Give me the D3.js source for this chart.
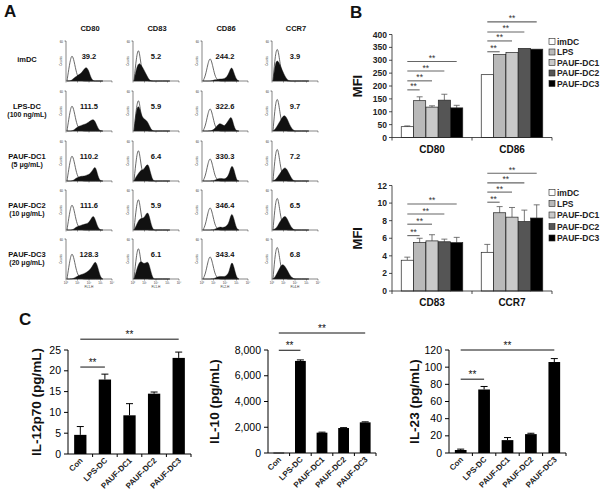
<!DOCTYPE html>
<html><head><meta charset="utf-8">
<script src="https://cdn.jsdelivr.net/npm/d3@7/dist/d3.min.js"></script>
<style>body{margin:0;background:#fff} svg{display:block} text{font-family:"Liberation Sans",Arial,sans-serif}</style>
</head><body>
<script>
// ---------- Panel A data ----------
const markersA = ["CD80","CD83","CD86","CCR7"];
const rowLabelsA = [["imDC"],["LPS-DC","(100 ng/mL)"],["PAUF-DC1","(5 \u03bcg/mL)"],["PAUF-DC2","(10 \u03bcg/mL)"],["PAUF-DC3","(20 \u03bcg/mL)"]];
const mfiA = [[39.2,5.2,244.2,3.9],[111.5,5.9,322.6,9.7],[110.2,6.4,330.3,7.2],[111.6,5.9,346.4,6.5],[128.3,6.1,343.4,6.8]];
const channelsA = ["FL1-H","FL1-H","FL2-H","FL4-H"];
const decadeLabels = ["10\u2070","10\u00b9","10\u00b2","10\u00b3","10\u2074"];
const isoCD80 = [0,40,70,50,18,6,2,0,0,0,0,0,0,0,0,0];
const isoCD83 = [0,60,88,35,12,4,0,0,0,0,0,0,0,0,0,0];
const isoCD86 = [0,12,42,62,40,12,3,0,0,0,0,0,0,0,0,0];
const isoCCR7 = [0,70,88,40,12,3,0,0,0,0,0,0,0,0,0,0];
const histCD80 = [
 [0,0,2,8,12,16,20,28,36,28,8,0,0,0,0,0],
 [0,0,0,3,8,12,14,16,18,22,26,30,22,6,0,0],
 [0,0,0,3,8,10,12,12,14,16,20,30,38,10,0,0],
 [0,0,0,3,8,10,12,14,15,18,26,38,24,5,0,0],
 [0,0,0,2,6,9,11,13,16,20,26,36,46,28,4,0]];
const histCD83 = [
 [0,32,46,40,30,18,6,0,0,0,0,0,0,0,0,0],
 [0,55,66,42,30,28,20,5,0,0,0,0,0,0,0,0],
 [0,12,20,28,28,38,44,18,0,0,0,0,0,0,0,0],
 [0,12,25,30,28,40,46,18,0,0,0,0,0,0,0,0],
 [0,20,40,45,38,40,45,20,0,0,0,0,0,0,0,0]];
const histCD86 = [
 [0,0,0,0,1,3,4,5,5,6,10,22,38,20,3,0],
 [0,0,0,0,2,6,14,20,16,12,20,30,38,10,0,0],
 [0,0,0,0,0,2,5,7,6,5,8,18,42,30,2,0],
 [0,0,0,0,0,2,5,8,6,7,10,20,46,28,3,0],
 [0,0,0,0,0,2,5,7,6,6,9,18,47,30,4,0]];
const histCCR7 = [
 [0,48,52,40,25,12,3,0,0,0,0,0,0,0,0,0],
 [0,5,15,25,36,40,30,15,5,0,0,0,0,0,0,0],
 [0,3,10,20,28,35,28,15,4,0,0,0,0,0,0,0],
 [0,3,10,22,30,36,28,14,4,0,0,0,0,0,0,0],
 [0,6,18,30,38,32,22,10,3,0,0,0,0,0,0,0]];

// ---------- Panel B data ----------
const markersBTop = ["CD80","CD86"];
const markersBBot = ["CD83","CCR7"];
const groupsB = ["imDC","LPS","PAUF-DC1","PAUF-DC2","PAUF-DC3"];
const colorsB = ["#ffffff","#b9b9b9","#c9c9c9","#555555","#000000"];
const mfiTop = [[42,143,118,145,115],[244,322,330,346,343]];
const mfiTopErr = [[3,15,5,23,10],[0,0,0,0,0]];
const mfiBot = [[3.5,5.5,5.7,5.6,5.5],[4.4,8.9,8.4,7.9,8.3]];
const mfiBotErr = [[0.35,0.5,0.7,0.3,0.6],[0.9,0.7,1.1,1.3,1.5]];
const ticksBTop = [0,50,100,150,200,250,300,350,400];
const ticksBBot = [0,2,4,6,8,10,12];
const sigTop = [[185,220,258,295],[333,375,410,449]];
const sigBot = [[6.3,7.6,8.75,9.9],[10.1,11.25,12.3,13.4]];

// ---------- Panel C data ----------
const catsC = ["Con","LPS-DC","PAUF-DC1","PAUF-DC2","PAUF-DC3"];
const il12 = [4.6,17.9,9.3,14.5,23.1];
const il12Err = [2.0,1.3,2.8,0.4,1.4];
const il10 = [30,7150,1580,1940,2380];
const il10Err = [0,80,40,30,40];
const il23 = [3.5,74,15,22,106];
const il23Err = [1,3.5,3,1,4];
const ticksIl12 = [0,5,10,15,20,25];
const ticksIl10 = [0,2000,4000,6000,8000];
const ticksIl23 = [0,20,40,60,80,100,120];
const sigIl12 = [20.9,27.6];
const sigIl10 = [7980,9320];
const sigIl23 = [86,120];

const svg = d3.select("body").append("svg").attr("width",600).attr("height",504);
svg.append("rect").attr("width",600).attr("height",504).attr("fill","#fff");

function label(t,x,y,size,opts={}){
  return svg.append("text").attr("x",x).attr("y",y).attr("font-size",size)
    .attr("font-weight",opts.weight||"bold").attr("text-anchor",opts.anchor||"middle")
    .attr("fill",opts.fill||"#111").text(t);
}
label("A",4,17,17,{anchor:"start"});
label("B",350,18,17,{anchor:"start"});
label("C",19,325,17,{anchor:"start"});

// ---------- Panel A ----------
const isoList = [isoCD80,isoCD83,isoCD86,isoCCR7];
const histList = [histCD80,histCD83,histCD86,histCCR7];
const colX = [66,133,202,272];
const rowBase = [81,131,181,230,279];
const cellW = 46, cellH = 40;
markersA.forEach((m,j)=>label(m,colX[j]+24,31,7.5));
rowLabelsA.forEach((ls,i)=>{
  const yc = rowBase[i]-22;
  if(ls.length===1) label(ls[0],27,yc+3,7.5);
  else { label(ls[0],27,yc,7.5); label(ls[1],27,yc+8,7); }
});
markersA.forEach((m,j)=>{
  rowLabelsA.forEach((r,i)=>{
    const x0 = colX[j], b = rowBase[i];
    const xs = d3.scaleLinear().domain([0,15]).range([x0+1, x0+0.8*cellW]);
    const ys = d3.scaleLinear().domain([0,100]).range([b, b-cellH]);
    const g = svg.append("g");
    const area = d3.area().x((d,k)=>xs(k)).y0(b).y1(d=>ys(d)).curve(d3.curveBasis);
    const line = d3.line().x((d,k)=>xs(k)).y(d=>ys(d)).curve(d3.curveBasis);
    g.append("path").attr("d",line(isoList[j])).attr("fill","none").attr("stroke","#444").attr("stroke-width",0.8);
    g.append("path").attr("d",area(histList[j][i])).attr("fill","#111").attr("stroke","#111").attr("stroke-width",0.4);
    const xa = d3.scaleLinear().domain([0,4]).range([x0,x0+cellW]);
    g.append("line").attr("x1",x0).attr("x2",x0+cellW).attr("y1",b).attr("y2",b).attr("stroke","#333").attr("stroke-width",0.6);
    g.append("line").attr("x1",x0).attr("x2",x0).attr("y1",b).attr("y2",b-cellH).attr("stroke","#333").attr("stroke-width",0.6);
    g.append("line").attr("x1",x0-1.5).attr("x2",x0).attr("y1",b-cellH).attr("y2",b-cellH).attr("stroke","#333").attr("stroke-width",0.6);
    d3.range(5).forEach(k=>g.append("line").attr("x1",xa(k)).attr("x2",xa(k)).attr("y1",b).attr("y2",b+1.5).attr("stroke","#333").attr("stroke-width",0.5));
    g.append("text").attr("x",x0-3).attr("y",b-cellH+2).attr("font-size",3).attr("text-anchor","end").attr("fill","#333").text("60");
    g.append("text").attr("transform",`translate(${x0-4},${b-20}) rotate(-90)`).attr("font-size",3).attr("text-anchor","middle").attr("fill","#333").text("Counts");
    if(i===4){
      decadeLabels.forEach((t,k)=>g.append("text").attr("x",xa(k)).attr("y",b+5).attr("font-size",3).attr("text-anchor","middle").attr("fill","#333").text(t));
      g.append("text").attr("x",x0+cellW/2).attr("y",b+9).attr("font-size",3.2).attr("text-anchor","middle").attr("fill","#333").text(channelsA[j]);
    }
    label(String(mfiA[i][j]),x0+cellW/2,b-22,7.5);
  });
});

// ---------- Panel B ----------
function mfiChart(markers, vals, errs, ticks, yMax, yRange, sig, legendY){
  const x0 = d3.scaleBand().domain(markers).range([392,552]).padding(0);
  const x1 = d3.scaleBand().domain(groupsB).range([9,71]).padding(0.02);
  const y = d3.scaleLinear().domain([0,yMax]).range(yRange);
  const g = svg.append("g");
  markers.forEach((m,mi)=>{
    groupsB.forEach((gr,gi)=>{
      const bx = x0(m)+x1(gr), v = vals[mi][gi], e = errs[mi][gi];
      if(e>0){
        const cx = bx+x1.bandwidth()/2;
        g.append("line").attr("x1",cx).attr("x2",cx).attr("y1",y(v)).attr("y2",y(v+e)).attr("stroke","#555").attr("stroke-width",0.8);
        g.append("line").attr("x1",cx-3).attr("x2",cx+3).attr("y1",y(v+e)).attr("y2",y(v+e)).attr("stroke","#555").attr("stroke-width",0.8);
      }
      g.append("rect").attr("x",bx).attr("y",y(v)).attr("width",x1.bandwidth()).attr("height",y(0)-y(v))
        .attr("fill",colorsB[gi]).attr("stroke","#222").attr("stroke-width",0.7);
    });
    sig[mi].forEach((s,k)=>{
      const xa = x0(m)+x1(groupsB[0])+x1.bandwidth()/2, xb = x0(m)+x1(groupsB[k+1])+x1.bandwidth()/2;
      g.append("line").attr("x1",xa).attr("x2",xb).attr("y1",y(s)).attr("y2",y(s)).attr("stroke","#666").attr("stroke-width",1.1);
      g.append("text").attr("x",(xa+xb)/2).attr("y",y(s)-0.5).attr("font-size",8.5).attr("text-anchor","middle").attr("fill","#333").text("**");
    });
    label(m, x0(m)+x0.bandwidth()/2, yRange[0]+15, 10);
  });
  g.append("line").attr("x1",392).attr("x2",552).attr("y1",y(0)).attr("y2",y(0)).attr("stroke","#222").attr("stroke-width",0.8);
  g.append("line").attr("x1",392).attr("x2",392).attr("y1",y(0)).attr("y2",y(yMax)).attr("stroke","#222").attr("stroke-width",0.8);
  [392,472,552].forEach(t=>g.append("line").attr("x1",t).attr("x2",t).attr("y1",y(0)).attr("y2",y(0)+3).attr("stroke","#222").attr("stroke-width",0.8));
  ticks.forEach(t=>{
    g.append("line").attr("x1",389).attr("x2",392).attr("y1",y(t)).attr("y2",y(t)).attr("stroke","#222").attr("stroke-width",0.8);
    g.append("text").attr("x",387).attr("y",y(t)+3).attr("font-size",8.5).attr("font-weight","bold").attr("text-anchor","end").attr("fill","#222").text(t);
  });
  g.append("text").attr("transform",`translate(362,${(yRange[0]+yRange[1])/2}) rotate(-90)`).attr("font-size",13)
    .attr("font-weight","bold").attr("text-anchor","middle").attr("fill","#111").text("MFI");
  groupsB.forEach((gr,gi)=>{
    const ly = legendY[gi];
    g.append("rect").attr("x",549).attr("y",ly-3).attr("width",6).attr("height",6).attr("fill",colorsB[gi]).attr("stroke","#222").attr("stroke-width",0.6);
    g.append("text").attr("x",557).attr("y",ly+3.2).attr("font-size",8.5).attr("font-weight","bold").attr("fill","#222").text(gr);
  });
}
mfiChart(markersBTop, mfiTop, mfiTopErr, ticksBTop, 400, [137.5,34.5], sigTop, [41.5,52,62.5,73,83.5]);
mfiChart(markersBBot, mfiBot, mfiBotErr, ticksBBot, 12, [291,185.5], sigBot, [192.5,203.5,215,226.5,238]);

// ---------- Panel C ----------
function cytoChart(vals, errs, ticks, yMax, xr, yr, sig, ylab, labX, fmt){
  const x = d3.scaleBand().domain(catsC).range(xr).paddingInner(0.5).paddingOuter(0.25);
  const y = d3.scaleLinear().domain([0,yMax]).range(yr);
  const g = svg.append("g");
  catsC.forEach((c,i)=>{
    const bx = x(c), v = vals[i], e = errs[i], cx = bx+x.bandwidth()/2;
    if(e>0){
      g.append("line").attr("x1",cx).attr("x2",cx).attr("y1",y(v)).attr("y2",y(v+e)).attr("stroke","#000").attr("stroke-width",1);
      g.append("line").attr("x1",cx-3.5).attr("x2",cx+3.5).attr("y1",y(v+e)).attr("y2",y(v+e)).attr("stroke","#000").attr("stroke-width",1);
    }
    g.append("rect").attr("x",bx).attr("y",y(v)).attr("width",x.bandwidth()).attr("height",Math.max(0.8,y(0)-y(v))).attr("fill","#000");
    g.append("text").attr("transform",`translate(${cx+3},${y(0)+7}) rotate(-45)`).attr("font-size",8)
      .attr("font-weight","bold").attr("text-anchor","end").attr("fill","#222").text(c);
  });
  const step = x.step();
  g.append("line").attr("x1",xr[0]).attr("x2",xr[1]).attr("y1",y(0)).attr("y2",y(0)).attr("stroke","#000").attr("stroke-width",1);
  g.append("line").attr("x1",xr[0]).attr("x2",xr[0]).attr("y1",y(0)).attr("y2",y(yMax)).attr("stroke","#000").attr("stroke-width",1);
  catsC.forEach((c,i)=>{ const t = x(c)+x.bandwidth()/2+step/2;
    g.append("line").attr("x1",t).attr("x2",t).attr("y1",y(0)).attr("y2",y(0)+3).attr("stroke","#000").attr("stroke-width",1); });
  ticks.forEach(t=>{
    g.append("line").attr("x1",xr[0]-4).attr("x2",xr[0]).attr("y1",y(t)).attr("y2",y(t)).attr("stroke","#000").attr("stroke-width",1);
    g.append("text").attr("x",xr[0]-7).attr("y",y(t)+3.5).attr("font-size",10.5).attr("text-anchor","end").attr("fill","#000").text(fmt(t));
  });
  const c0 = x(catsC[0])+x.bandwidth()/2, c1 = x(catsC[1])+x.bandwidth()/2, c4 = x(catsC[4])+x.bandwidth()/2;
  [[c0,c1,sig[0]],[c0,c4,sig[1]]].forEach(([a,b,s])=>{
    g.append("line").attr("x1",a).attr("x2",b).attr("y1",y(s)).attr("y2",y(s)).attr("stroke","#111").attr("stroke-width",1);
    g.append("text").attr("x",(a+b)/2).attr("y",y(s)-1).attr("font-size",10).attr("text-anchor","middle").attr("fill","#111").text("**");
  });
  g.append("text").attr("transform",`translate(${labX},${(yr[0]+yr[1])/2}) rotate(-90)`).attr("font-size",13.5)
    .attr("font-weight","bold").attr("text-anchor","middle").attr("fill","#111").text(ylab);
}
cytoChart(il12, il12Err, ticksIl12, 25, [68,191], [454,350], sigIl12, "IL-12p70 (pg/mL)", 41, d3.format("d"));
cytoChart(il10, il10Err, ticksIl10, 8000, [268,376], [453,350], sigIl10, "IL-10 (pg/mL)", 219, d3.format(","));
cytoChart(il23, il23Err, ticksIl23, 120, [449,566], [453,350], sigIl23, "IL-23 (pg/mL)", 419, d3.format("d"));
</script></body></html>
